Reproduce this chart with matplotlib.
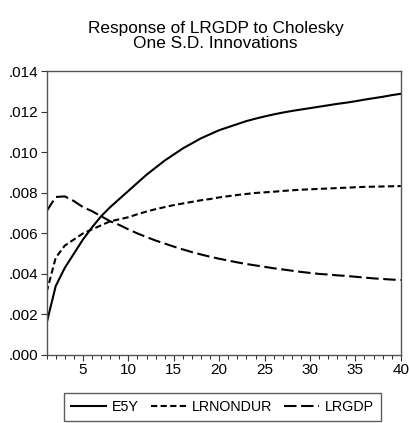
import matplotlib
matplotlib.use("Agg")
import matplotlib.pyplot as plt
from matplotlib.ticker import FuncFormatter, MultipleLocator

plt.rcParams['font.family'] = ['Liberation Sans', 'DejaVu Sans']

periods = list(range(1, 41))
e5y = [0.00157, 0.0034, 0.0043, 0.0050, 0.0057, 0.0063, 0.00685, 0.0073, 0.00770, 0.0081,
       0.0085, 0.0089, 0.00925, 0.0096, 0.0099, 0.0102, 0.01045, 0.0107, 0.0109, 0.0111,
       0.01125, 0.0114, 0.01155, 0.01167, 0.01178, 0.01188, 0.01197, 0.01205, 0.01212, 0.01219,
       0.01226, 0.01233, 0.0124, 0.01246, 0.01253, 0.01261, 0.01268, 0.01275, 0.01283, 0.0129]
lrnondur = [0.0031, 0.0048, 0.0054, 0.0057, 0.0060, 0.0062, 0.0064, 0.0066, 0.0067, 0.0068,
            0.00695, 0.00708, 0.0072, 0.0073, 0.0074, 0.00748, 0.00756, 0.00764, 0.0077, 0.00778,
            0.00784, 0.0079, 0.00795, 0.0080, 0.00803, 0.00806, 0.0081, 0.00813, 0.00816, 0.00818,
            0.0082, 0.00822, 0.00824, 0.00826, 0.00828, 0.0083, 0.00831, 0.00832, 0.00833, 0.00834]
lrgdp = [0.0071, 0.0078, 0.00783, 0.0076, 0.0073, 0.0071, 0.00685, 0.0066, 0.00642, 0.0062,
         0.0060, 0.00582, 0.00565, 0.0055, 0.00535, 0.00521, 0.00508, 0.00496, 0.00485, 0.00475,
         0.00466, 0.00457, 0.00449, 0.00442, 0.00435, 0.00428, 0.00422, 0.00416, 0.0041, 0.00405,
         0.0040, 0.00397, 0.00393, 0.0039, 0.00386, 0.00382, 0.00378, 0.00375, 0.00372, 0.0037]
series_names = ["E5Y", "LRNONDUR", "LRGDP"]
x_tick_labels = [5, 10, 15, 20, 25, 30, 35, 40]

fig = plt.figure(figsize=(4.09, 4.23), dpi=100)
ax = fig.add_axes([0.114, 0.161, 0.866, 0.670])

styles = [dict(linestyle='-'),
          dict(linestyle=(0, (3.0, 1.6))),
          dict(linestyle=(0, (6.0, 2.2)))]
for y, name, st in zip([e5y, lrnondur, lrgdp], series_names, styles):
    ax.plot(periods, y, color='black', linewidth=1.5, label=name, **st)

ax.set_xlim(1, 40)
ax.set_ylim(0, 0.014)
ax.set_xticks(x_tick_labels)
ax.xaxis.set_minor_locator(MultipleLocator(1))
ax.yaxis.set_major_locator(MultipleLocator(0.002))
ax.yaxis.set_major_formatter(FuncFormatter(lambda v, p: f"{v:.3f}".replace("0.", ".", 1)))
ax.tick_params(axis='both', direction='out', labelsize=11, color='#333333')
ax.tick_params(axis='x', which='major', length=4, pad=2)
ax.tick_params(axis='x', which='minor', length=3)
ax.tick_params(axis='y', which='major', length=4, pad=2)
for s in ax.spines.values():
    s.set_color('#555555')
    s.set_linewidth(1.0)

fig.text(0.527, 0.915, "Response of LRGDP to Cholesky\nOne S.D. Innovations",
         ha='center', va='center', fontsize=12.4, linespacing=1.05)

leg = fig.legend(loc='lower center', bbox_to_anchor=(0.544, -0.013), ncol=3, frameon=True,
                 fontsize=10.3, handlelength=2.45, handletextpad=0.4, columnspacing=0.85,
                 borderpad=0.5, fancybox=False, edgecolor='#333333')
leg.get_frame().set_linewidth(1.0)

fig.savefig("out.png", dpi=100)
